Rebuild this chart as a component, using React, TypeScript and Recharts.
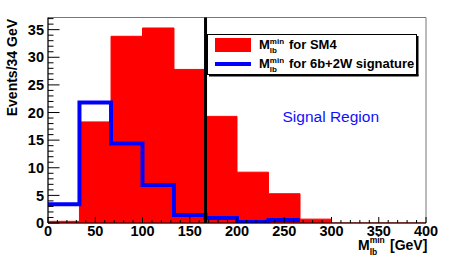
import React from 'react';
import {
  ComposedChart,
  Area,
  Line,
  XAxis,
  YAxis,
  ReferenceLine,
  ReferenceArea
} from 'recharts';

// bin edges (GeV), 12 bins of ~33.3 GeV
const binEdges = [0, 33.3, 66.7, 100, 133.3, 166.7, 200, 233.3, 266.7, 300, 333.3, 366.7, 400];
// M_lb^min for SM4 (red filled)
const sm4Counts = [0.3, 18.3, 33.8, 35.3, 27.8, 19.3, 9.2, 5.3, 0.7, 0, 0, 0];
// M_lb^min for 6b+2W signature (blue line), drawn up to 266.7
const signalCounts = [3.4, 21.8, 14.4, 6.9, 1.45, 0.9, 0.2, 0.55];

const xMajorTicks = [0, 50, 100, 150, 200, 250, 300, 350, 400];
const yMajorTicks = [0, 5, 10, 15, 20, 25, 30, 35];
const cutValue = 166.7;

const xTicks = Array.from({ length: 41 }, (_, i) => i * 10);
const yTicks = Array.from({ length: 38 }, (_, i) => i);

const FONT = '"Liberation Sans", Arial, Helvetica, sans-serif';

const data = binEdges.map((x, i) => ({
  x,
  sm4: sm4Counts[Math.min(i, sm4Counts.length - 1)],
  sig: i < signalCounts.length ? signalCounts[i] : i === signalCounts.length ? signalCounts[i - 1] : null
}));

// ticks drawn inward like ROOT, labels outside
const XTick = ({ x, y, payload }: any) => {
  const v = payload.value;
  const major = xMajorTicks.includes(v);
  return (
    <g>
      <line x1={x} x2={x} y1={y} y2={y - (major ? 6 : 3)} stroke="#000" strokeWidth={1} />
      {major && (
        <text x={x} y={y + 13.3} textAnchor="middle" fontFamily={FONT} fontWeight="bold" fontSize={14.5} fill="#000">
          {v}
        </text>
      )}
    </g>
  );
};

const YTick = ({ x, y, payload }: any) => {
  const v = payload.value;
  const major = yMajorTicks.includes(v);
  return (
    <g>
      <line x1={x} x2={x + (major ? 11.5 : 5.5)} y1={y} y2={y} stroke="#000" strokeWidth={1} />
      {major && (
        <text x={x - 4} y={y} dy="0.36em" textAnchor="end" fontFamily={FONT} fontWeight="bold" fontSize={14.5} fill="#000">
          {v}
        </text>
      )}
    </g>
  );
};

// M with stacked "min" superscript and "lb" subscript
const MLabel = ({ x, y, size, small, supDy, subDy, restX, rest }: any) => (
  <g fontFamily={FONT} fontWeight="bold" fill="#000">
    <text x={x} y={y} fontSize={size}>M</text>
    <text x={x + size * 0.833} y={y - supDy} fontSize={small}>min</text>
    <text x={x + size * 0.833} y={y + subDy} fontSize={small}>lb</text>
    <text x={restX} y={y} fontSize={size}>{rest}</text>
  </g>
);

const Overlay = () => (
  <svg width={473} height={258} style={{ position: 'absolute', left: 0, top: 0, pointerEvents: 'none' }}>
    {/* y axis title */}
    <text
      x={17.3}
      y={19}
      transform="rotate(-90 17.3 19)"
      textAnchor="end"
      fontFamily={FONT}
      fontWeight="bold"
      fontSize={14}
      fill="#000"
    >
      Events/34 GeV
    </text>
    {/* x axis title */}
    <MLabel x={358} y={250} size={14} small={8.5} supDy={6.6} subDy={5} restX={390} rest="[GeV]" />
    {/* legend */}
    <rect x={207.5} y={34.5} width={209} height={40} fill="#fff" stroke="#000" strokeWidth={1} />
    <line x1={417.5} x2={417.5} y1={36} y2={76} stroke="#000" strokeWidth={2} />
    <line x1={209} x2={418.5} y1={75.5} y2={75.5} stroke="#000" strokeWidth={2} />
    <rect x={215} y={38} width={36} height={14} fill="#ff0000" />
    <line x1={215} x2={251} y1={64} y2={64} stroke="#0000ff" strokeWidth={4} />
    <MLabel x={259} y={49.3} size={13} small={8} supDy={5.3} subDy={4} restX={289} rest="for SM4" />
    <MLabel x={259} y={68.3} size={13} small={8} supDy={5.3} subDy={4} restX={289} rest="for 6b+2W signature" />
    {/* region label */}
    <text x={282.5} y={122} fontFamily={FONT} fontSize={15.5} fill="#1010ff">
      Signal Region
    </text>
  </svg>
);

export default function App() {
  return (
    <div style={{ position: 'absolute', left: 0, top: 0, width: 473, height: 258, background: '#fff' }}>
      <ComposedChart
        width={473}
        height={258}
        data={data}
        margin={{ top: 17.5, right: 47, bottom: 5, left: 18 }}
      >
        <XAxis
          dataKey="x"
          type="number"
          domain={[0, 400]}
          ticks={xTicks}
          interval={0}
          height={30}
          tickSize={0}
          tickMargin={0}
          tick={<XTick />}
          axisLine={{ stroke: '#000' }}
          tickLine={false}
          allowDataOverflow
        />
        <YAxis
          type="number"
          domain={[0, 37.2]}
          ticks={yTicks}
          interval={0}
          width={30}
          tickSize={0}
          tickMargin={0}
          tick={<YTick />}
          axisLine={{ stroke: '#000' }}
          tickLine={false}
          allowDataOverflow
        />
        <ReferenceArea x1={0} x2={400} y1={0} y2={37.2} fill="none" stroke="#777" strokeWidth={1} />
        <Area
          dataKey="sm4"
          type="stepAfter"
          stroke="#ff0000"
          strokeWidth={1}
          fill="#ff0000"
          fillOpacity={1}
          baseValue={0}
          isAnimationActive={false}
          dot={false}
          activeDot={false}
        />
        <Line
          dataKey="sig"
          type="stepAfter"
          stroke="#0000ff"
          strokeWidth={4}
          strokeLinejoin="miter"
          dot={false}
          activeDot={false}
          connectNulls={false}
          isAnimationActive={false}
        />
        <ReferenceLine x={cutValue} stroke="#000" strokeWidth={3} />
      </ComposedChart>
      <Overlay />
    </div>
  );
}
